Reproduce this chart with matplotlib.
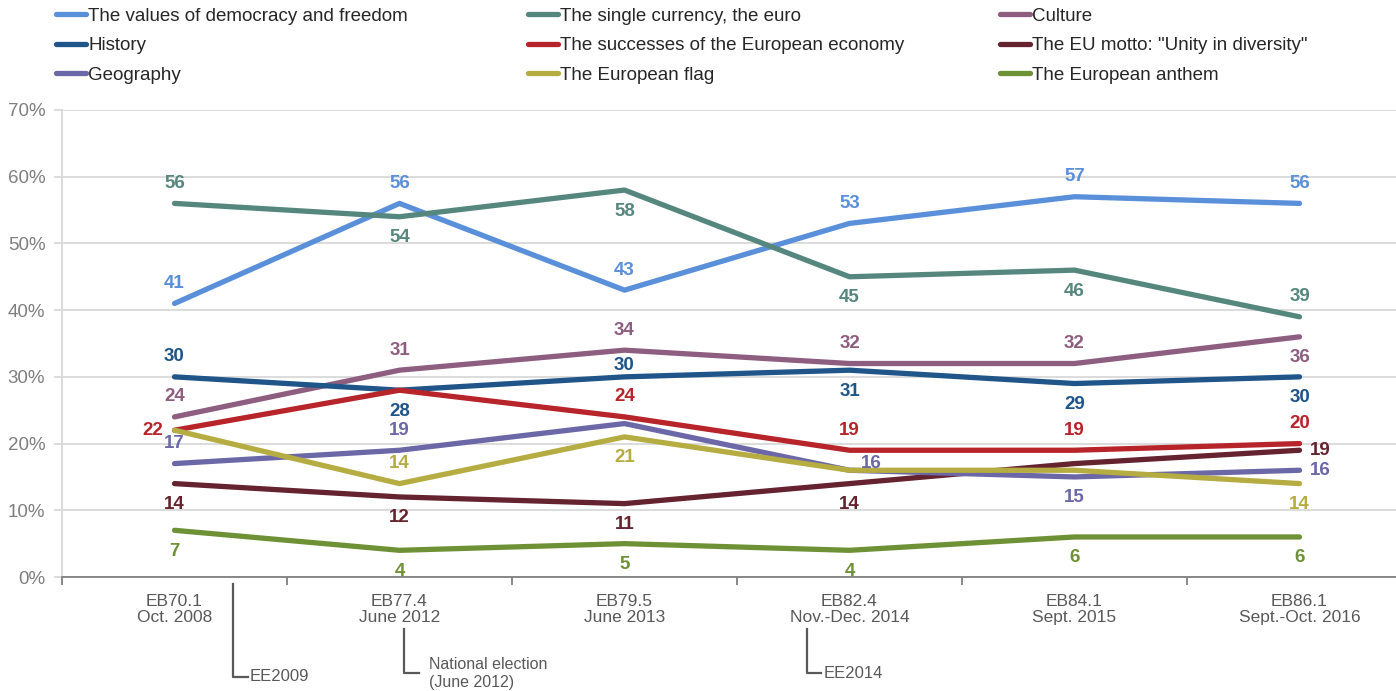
import matplotlib
matplotlib.use("Agg")
import matplotlib.pyplot as plt
import numpy as np

plt.rcParams['font.family'] = ['Liberation Sans', 'DejaVu Sans']

waves = ["EB70.1\nOct. 2008", "EB77.4\nJune 2012", "EB79.5\nJune 2013",
         "EB82.4\nNov.-Dec. 2014", "EB84.1\nSept. 2015", "EB86.1\nSept.-Oct. 2016"]

democracy = [41, 56, 43, 53, 57, 56]
euro = [56, 54, 58, 45, 46, 39]
culture = [24, 31, 34, 32, 32, 36]
history = [30, 28, 30, 31, 29, 30]
economy = [22, 28, 24, 19, 19, 20]
motto = [14, 12, 11, 14, 17, 19]
geography = [17, 19, 23, 16, 15, 16]
flag = [22, 14, 21, 16, 16, 14]
anthem = [7, 4, 5, 4, 6, 6]

series_names = ["The values of democracy and freedom", "The single currency, the euro", "Culture",
                "History", "The successes of the European economy", 'The EU motto: "Unity in diversity"',
                "Geography", "The European flag", "The European anthem"]
series_values = [democracy, euro, culture, history, economy, motto, geography, flag, anthem]
colors = ["#5A8FDA", "#56877E", "#8E5E80", "#1F5588", "#B7242A", "#65232F",
          "#6C68A8", "#B5AC42", "#6F9136"]

# where each value label sits: a=above, n=just above, b=below, l=left, r=right,
# q=up-right, None=hidden
label_pos = [
    ["a", "a", "a", "a", "a", "a"],
    ["a", "b", "b", "b", "b", "a"],
    ["a", "a", "a", "a", "a", "b"],
    ["a", "b", "n", "b", "b", "b"],
    ["l", None, "a", "a", "a", "a"],
    ["b", "b", "b", "b", None, "r"],
    ["a", "a", None, "q", "b", "r"],
    [None, "a", "b", None, None, "b"],
    ["b", "b", "b", "b", "b", "b"],
]
offsets = {"a": (0, 20), "n": (0, 11), "b": (0, -21), "l": (-22, 0), "r": (21, 0),
           "q": (22, 7)}

fig = plt.figure(figsize=(13.96, 6.91), dpi=100)
ax = fig.add_axes([62 / 1396, 114 / 691, 1350 / 1396, 467 / 691])

x = np.arange(len(waves))
lines = []
for vals, col, name in zip(series_values, colors, series_names):
    ln, = ax.plot(x, vals, color=col, lw=3.8, solid_joinstyle="round",
                  solid_capstyle="round", label=name, zorder=3)
    lines.append(ln)

for vals, col, pos in zip(series_values, colors, label_pos):
    for xi, v, p in zip(x, vals, pos):
        if p is None:
            continue
        dx, dy = offsets[p]
        ax.annotate(str(v), (xi, v), xytext=(dx, dy), textcoords="offset pixels",
                    ha="center", va="center", color=col, fontsize=13.5,
                    fontweight="bold", zorder=4)

ax.set_xlim(-0.5, 5.5)
ax.set_ylim(0, 70)
ax.set_yticks(range(0, 71, 10))
ax.set_yticklabels([f"{v}%" for v in range(0, 71, 10)])
ax.set_xticks(x)
ax.set_xticklabels(waves)
ax.set_xticks(np.arange(-0.5, 5.0, 1.0), minor=True)
ax.grid(axis="y", color="#D9D9D9", lw=1.3, zorder=0)
ax.set_axisbelow(True)

for s in ["top", "right"]:
    ax.spines[s].set_visible(False)
ax.spines["left"].set_color("#D9D9D9")
ax.spines["left"].set_linewidth(1.3)
ax.spines["bottom"].set_color("#7F7F7F")
ax.spines["bottom"].set_linewidth(1.3)

ax.tick_params(axis="y", colors="#D9D9D9", length=6, width=1.3, labelcolor="#7F7F7F",
               labelsize=13.5, pad=6)
ax.tick_params(axis="x", which="major", length=0, labelcolor="#595959", labelsize=12.5, pad=12)
ax.tick_params(axis="x", which="minor", length=6, width=1.3, color="#7F7F7F")
for t in ax.get_xticklabels():
    t.set_linespacing(1.1)

# event markers under the x axis
tr = ax.get_xaxis_transform()
note_col = "#595959"
events = [(0.26, -0.015, -0.214, "EE2009"),
          (1.02, -0.111, -0.206, "National election\n(June 2012)"),
          (2.81, -0.111, -0.206, "EE2014")]
for ex, y0, y1, txt in events:
    ax.plot([ex, ex, ex + 0.065], [y0, y1, y1], color=note_col, lw=1.6,
            transform=tr, clip_on=False)
    if "\n" in txt:
        ax.text(ex + 0.11, y1 - 0.001, txt, transform=tr, ha="left", va="center",
                color=note_col, fontsize=11.5, linespacing=1.3)
    else:
        ax.text(ex + 0.075, y1, txt, transform=tr, ha="left", va="center",
                color=note_col, fontsize=12)

# legend: three columns of three entries
col_x = [46 / 1396, 518 / 1396, 990 / 1396]
for c in range(3):
    idx = [c, c + 3, c + 6]
    fig.legend([lines[i] for i in idx], [series_names[i] for i in idx],
               loc="upper left", bbox_to_anchor=(col_x[c], 1.004), frameon=False,
               fontsize=13.5, handlelength=1.6, handletextpad=0.1,
               labelspacing=0.66, borderpad=0.05, labelcolor="#262626")

fig.savefig("out.png", dpi=100)
